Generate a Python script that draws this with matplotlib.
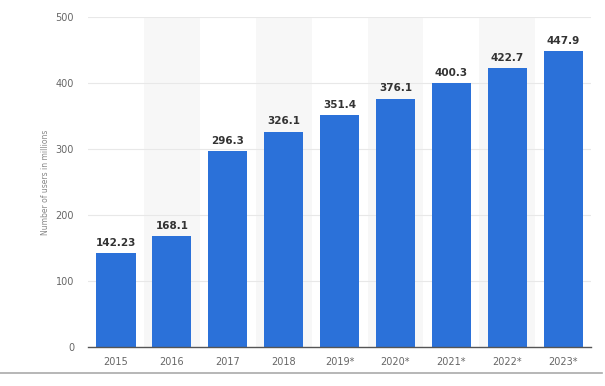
import matplotlib.pyplot as plt
from matplotlib.lines import Line2D

years = ['2015', '2016', '2017', '2018', '2019*', '2020*', '2021*', '2022*', '2023*']
users = [142.23, 168.1, 296.3, 326.1, 351.4, 376.1, 400.3, 422.7, 447.9]
labels = ['142.23', '168.1', '296.3', '326.1', '351.4', '376.1', '400.3', '422.7', '447.9']

fig = plt.figure(figsize=(6.05, 3.86), dpi=100)
ax = fig.add_axes([0.1455, 0.101, 0.8315, 0.855])

x = list(range(len(years)))

# alternating column shading
for i in x:
    if i % 2 == 1:
        ax.axvspan(i - 0.5, i + 0.5, color='#f7f7f7', zorder=0, lw=0)

for yv in range(100, 501, 100):
    ax.axhline(yv, color='#e8e8e8', lw=0.8, zorder=1)

ax.bar(x, users, width=0.7, color='#2b71d9', zorder=2)

for xi, v, t in zip(x, users, labels):
    ax.text(xi, v + 8, t, ha='center', va='bottom', fontsize=7.5,
            fontweight='bold', color='#333333', zorder=3)

ax.set_xlim(-0.5, len(years) - 0.5)
ax.set_ylim(0, 500)
ax.set_xticks(x)
ax.set_xticklabels(years)
ax.set_yticks(range(0, 501, 100))
ax.tick_params(axis='both', length=0, labelsize=7, colors='#666666')
ax.tick_params(axis='x', pad=7)
ax.tick_params(axis='y', pad=10)

for s in ['top', 'right', 'left']:
    ax.spines[s].set_visible(False)
ax.spines['bottom'].set_color('#555555')
ax.spines['bottom'].set_linewidth(1)
ax.spines['bottom'].set_zorder(4)

ax.set_ylabel('Number of users in millions', fontsize=5.5, color='#888888', labelpad=4)

fig.add_artist(Line2D([0.0, 0.995], [1 - 373 / 386, 1 - 373 / 386],
                      transform=fig.transFigure, color='#aaaaaa', lw=1.2))

fig.savefig('out.png', dpi=100)
